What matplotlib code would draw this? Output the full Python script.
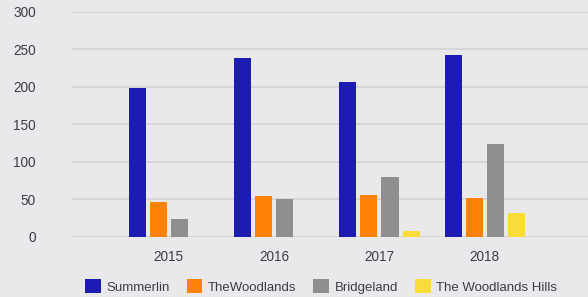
import numpy as np
import matplotlib.pyplot as plt

# data
years = ["2015", "2016", "2017", "2018"]
summerlin = [198, 239, 207, 243]
woodlands = [46, 54, 56, 52]
bridgeland = [24, 50, 80, 124]
woodlands_hills = [0, 0, 7, 32]

series_names = ["Summerlin", "TheWoodlands", "Bridgeland", "The Woodlands Hills"]
series_values = [summerlin, woodlands, bridgeland, woodlands_hills]
series_colors = ["#1c1cb4", "#ff8205", "#8f8f8f", "#f7dc3a"]

bg = "#e9e9eb"
text_col = "#3c3c48"

plt.rcParams["font.family"] = ["Liberation Sans", "DejaVu Sans"]

fig = plt.figure(figsize=(5.88, 2.97), dpi=100, facecolor=bg)
ax = fig.add_axes([0.1224, 0.2037, 0.8776, 0.7559])
ax.set_facecolor(bg)

x = np.arange(len(years))
pitch = 0.2
width = 0.162
for i, (name, vals, col) in enumerate(zip(series_names, series_values, series_colors)):
    offs = (i - 1.5) * pitch
    ax.bar(x + offs, vals, width=width, color=col, label=name, zorder=3)

ax.set_ylim(0, 300)
ax.set_xlim(-0.92, 3.98)
ax.set_yticks(range(0, 301, 50))
ax.set_xticks(x)
ax.set_xticklabels(years)
ax.grid(axis="y", color="#d4d4d8", linewidth=1.3, zorder=0)
for s in ax.spines.values():
    s.set_visible(False)
ax.tick_params(axis="both", length=0, labelsize=9.8, labelcolor=text_col)
ax.tick_params(axis="y", pad=26)
ax.tick_params(axis="x", pad=10)
for lab in ax.get_yticklabels():
    lab.set_horizontalalignment("right")

fig.legend(loc="center", bbox_to_anchor=(0.546, 0.035), ncol=4, frameon=False,
           fontsize=9.5, labelcolor=text_col, handlelength=1.2, handleheight=1.2,
           handletextpad=0.4, columnspacing=1.3, borderaxespad=0)

fig.savefig("out.png", dpi=100, facecolor=bg)
